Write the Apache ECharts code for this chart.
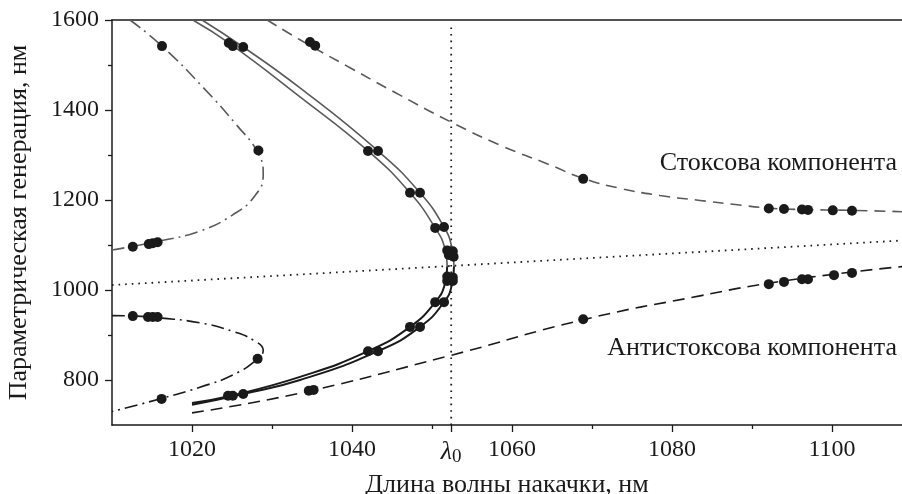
<!DOCTYPE html>
<html>
<head>
<meta charset="utf-8">
<script src="https://cdn.jsdelivr.net/npm/echarts@6/dist/echarts.min.js"></script>
<style>html,body{margin:0;padding:0;background:#fff}#c{width:902px;height:494px}</style>
</head>
<body>
<div id="c"></div>
<script>
// ---- data (pump wavelength, generated wavelength), nm ----
const lambda0 = 1052.4;
const xTickLabels = [1020, 1040, 1060, 1080, 1100];
const xMinorTicks = [1030, 1050, 1070, 1090];
const yTickLabels = [800, 1000, 1200, 1400, 1600];
const yMinorTicks = [900, 1100, 1300, 1500];

// dashed: Stokes component (gray)
const stokesLine = [[1029.4,1600],[1033.5,1556],[1039.75,1494],[1046,1433],[1052.4,1373],[1058.5,1322],[1064.75,1278],[1068.9,1248],[1073.5,1226],[1078.5,1210],[1083.5,1199],[1087.9,1190],[1092.1,1182],[1096,1179],[1102.5,1177],[1108.75,1174]];
// dashed: anti-Stokes component (black)
const antiStokesLine = [[1020,727],[1033.5,771],[1052.4,855],[1068.9,934],[1083.5,987],[1092.1,1015],[1102.5,1040],[1108.75,1052]];
// dotted: degenerate line
const degenerateLine = [[1010,1011],[1108.75,1110]];
// dotted vertical at lambda0
const lambdaLine = [[lambda0,700],[lambda0,1585]];
// dash-dot branches
const dashDotUpper = [[1012.25,1600],[1016.25,1542],[1021.5,1448],[1025.5,1368],[1028.2,1306],[1028.9,1257],[1027.8,1208],[1025,1166],[1021,1131],[1016,1109],[1010,1089]];
const dashDotLower = [[1010,943],[1013,942],[1016,938],[1021,927],[1025.1,908],[1027.9,886],[1028.9,866],[1028.2,847],[1025.2,812],[1021,784],[1016.2,759],[1010,730]];
// solid curves: two nested C-shapes; upper halves gray, lower halves black
const solidUpper1 = [[1020.1,1600],[1024.6,1549],[1033.5,1429],[1042,1309],[1047.25,1216],[1050.4,1138],[1051.6,1093],[1051.9,1053]];
const solidUpper2 = [[1021.25,1600],[1026.4,1540],[1033.5,1449],[1043.25,1309],[1048.5,1216],[1051.5,1140],[1052.5,1093],[1052.75,1053]];
const solidLower1 = [[1051.9,1053],[1051.6,1013],[1050.4,973],[1047.25,918],[1042,864],[1033.5,807],[1024.6,764],[1020,749]];
const solidLower2 = [[1052.75,1053],[1052.5,1013],[1051.5,973],[1048.5,918],[1043.25,864],[1033.5,800],[1026.4,769],[1020,745]];
// measured points
const pointsStokes = [[1034.75,1551],[1035.4,1543],[1068.9,1247],[1092.1,1181],[1094,1180],[1096.25,1179],[1097,1178],[1100.1,1177],[1102.5,1176]];
const pointsAntiStokes = [[1034.6,776],[1035.2,778],[1068.9,935],[1092.1,1013],[1094,1018],[1096.25,1024],[1097,1024],[1100.25,1033],[1102.5,1038]];
const pointsDashDot = [[1016.25,1542],[1028.3,1310],[1012.6,1096],[1014.6,1102],[1015.1,1104],[1015.7,1106],[1012.6,942],[1014.5,940],[1015.1,940],[1015.7,940],[1028.2,847],[1016.2,758]];
const pointsSolid = [[1024.6,1549],[1025.1,1542],[1026.4,1540],[1042,1309],[1043.25,1309],[1047.25,1216],[1048.5,1216],[1050.4,1138],[1051.5,1140],[1051.9,1088],[1052.6,1086],[1052.1,1078],[1052.7,1074],[1051.9,1030],[1052.6,1028],[1051.9,1020],[1052.6,1020],[1050.4,973],[1051.5,973],[1047.25,918],[1048.5,918],[1042,864],[1043.25,864],[1024.5,765],[1025.1,765],[1026.4,769]];

const FONT = '"Liberation Serif", "DejaVu Serif", serif';
const INK = '#1a1a1a';
const GRAY = '#5a5a5a';

function line(data, color, width, type, smooth) {
  return { type: 'line', data: data, showSymbol: false, smooth: smooth, silent: true,
    lineStyle: { color: color, width: width, type: type, cap: 'butt' }, z: 2 };
}
function dots(data) {
  return { type: 'scatter', data: data, symbol: 'circle', symbolSize: 10,
    itemStyle: { color: INK, opacity: 1 }, z: 5, silent: true };
}

const chart = echarts.init(document.getElementById('c'), null, { renderer: 'canvas' });
const axisLineStyle = { color: INK, width: 1.5 };
chart.setOption({
  animation: false,
  grid: { left: 112, right: 0, top: 20, bottom: 69, containLabel: false, outerBoundsMode: 'none' },
  xAxis: [
    { type: 'value', min: 1010, max: 1108.75, position: 'bottom',
      axisLine: { show: true, onZero: false, lineStyle: axisLineStyle },
      axisTick: { show: true, customValues: xTickLabels.concat([lambda0]), length: 7, lineStyle: { color: INK, width: 1.3 } },
      axisLabel: { customValues: xTickLabels.concat([lambda0]), margin: 13, color: INK, fontFamily: FONT, fontSize: 24,
        formatter: function (v) { return Math.abs(v - lambda0) < 0.01 ? '{l|λ}{s|0}' : String(v); },
        rich: { l: { fontFamily: FONT, fontStyle: 'italic', fontSize: 26, color: INK },
                s: { fontFamily: FONT, fontSize: 19, color: INK, padding: [10, 0, 0, 0] } } },
      splitLine: { show: false },
      name: 'Длина волны накачки, нм', nameLocation: 'middle', nameGap: 42,
      nameTextStyle: { fontFamily: FONT, fontSize: 26, color: INK } },
    { type: 'value', min: 1010, max: 1108.75, position: 'bottom',
      axisLine: { show: false, onZero: false },
      axisTick: { show: true, customValues: xMinorTicks, length: 4, lineStyle: { color: INK, width: 1.3 } },
      axisLabel: { show: false }, splitLine: { show: false } },
    { type: 'value', min: 1010, max: 1108.75, position: 'top',
      axisLine: { show: true, onZero: false, lineStyle: axisLineStyle },
      axisTick: { show: false }, axisLabel: { show: false }, splitLine: { show: false } }
  ],
  yAxis: [
    { type: 'value', min: 700, max: 1600, position: 'left',
      axisLine: { show: true, onZero: false, lineStyle: axisLineStyle },
      axisTick: { show: true, customValues: yTickLabels, length: 7, lineStyle: { color: INK, width: 1.3 } },
      axisLabel: { customValues: yTickLabels, margin: 13, color: INK, fontFamily: FONT, fontSize: 24,
        formatter: function (v) { return String(v); } },
      splitLine: { show: false },
      name: 'Параметрическая генерация, нм', nameLocation: 'middle', nameGap: 80, nameRotate: 90,
      nameTextStyle: { fontFamily: FONT, fontSize: 26, color: INK } },
    { type: 'value', min: 700, max: 1600, position: 'left',
      axisLine: { show: false, onZero: false },
      axisTick: { show: true, customValues: yMinorTicks, length: 4, lineStyle: { color: INK, width: 1.3 } },
      axisLabel: { show: false }, splitLine: { show: false } }
  ],
  series: [
    line(degenerateLine, INK, 1.8, [1.6, 5], false),
    line(lambdaLine, INK, 1.8, [1.6, 5], false),
    line(stokesLine, GRAY, 1.6, [11, 7], true),
    line(antiStokesLine, INK, 1.6, [12, 7], true),
    line(dashDotUpper, GRAY, 1.6, [13, 5, 2, 5], true),
    line(dashDotLower, INK, 1.6, [13, 5, 2, 5], true),
    line(solidUpper1, GRAY, 1.6, 'solid', true),
    line(solidUpper2, GRAY, 1.6, 'solid', true),
    line(solidLower1, INK, 2, 'solid', true),
    line(solidLower2, INK, 2, 'solid', true),
    dots(pointsStokes), dots(pointsAntiStokes), dots(pointsDashDot), dots(pointsSolid)
  ],
  graphic: [
    { type: 'text', x: 897, y: 163, style: { text: 'Стоксова компонента', fill: INK, font: '26px ' + FONT,
      align: 'right', textAlign: 'right', verticalAlign: 'middle', textVerticalAlign: 'middle' } },
    { type: 'text', x: 897, y: 348, style: { text: 'Антистоксова компонента', fill: INK, font: '26px ' + FONT,
      align: 'right', textAlign: 'right', verticalAlign: 'middle', textVerticalAlign: 'middle' } }
  ]
});
</script>
</body>
</html>
